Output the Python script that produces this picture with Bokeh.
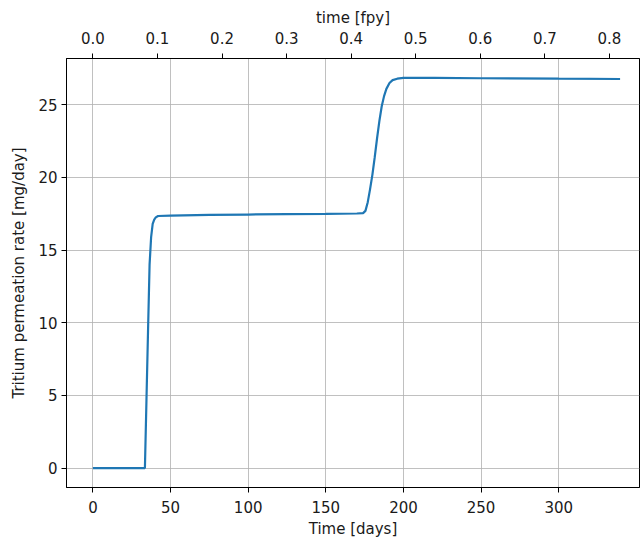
from bokeh.plotting import figure
from bokeh.models import Range1d, LinearAxis, FixedTicker, PrintfTickFormatter
from bokeh.embed import file_html
from bokeh.resources import INLINE

# Data
days = [0, 33.5, 34.5, 35.5, 36.5, 37.5, 38.5, 39.5, 40.5, 42, 50, 75, 100, 125, 150,
        170, 174, 175.5, 177, 178.5, 180, 181.5, 183, 184.5, 186, 187.5, 189, 191,
        193, 196, 200, 220, 250, 300, 339.5]
rate = [0, 0, 4.7, 9.4, 14.0, 15.9, 16.8, 17.1, 17.25, 17.35, 17.38, 17.42, 17.45, 17.48, 17.5,
        17.52, 17.55, 17.7, 18.3, 19.2, 20.2, 21.4, 22.7, 23.9, 24.9, 25.6, 26.1, 26.5,
        26.7, 26.8, 26.85, 26.85, 26.83, 26.8, 26.78]

x_ticks = [0, 50, 100, 150, 200, 250, 300]
y_ticks = [0, 5, 10, 15, 20, 25]
fpy_ticks = [0.0, 0.1, 0.2, 0.3, 0.4, 0.5, 0.6, 0.7, 0.8]
days_per_fpy = 415.8

x_lo, x_hi = -17.0, 352.0
y_lo, y_hi = -1.34, 28.19

FONT = "DejaVu Sans"
TXT = "#1a1a1a"

p = figure(width=643, height=541, output_backend="svg", toolbar_location=None,
           x_range=Range1d(x_lo, x_hi), y_range=Range1d(y_lo, y_hi),
           min_border_left=66, min_border_right=4, min_border_top=58, min_border_bottom=54)
p.background_fill_color = "white"
p.border_fill_color = "white"
p.outline_line_color = "black"
p.outline_line_width = 1
p.outline_line_alpha = 1

bottom = p.below[0]
left = p.left[0]
bottom.ticker = FixedTicker(ticks=x_ticks)
bottom.axis_label = "Time [days]"
left.ticker = FixedTicker(ticks=y_ticks)
left.axis_label = "Tritium permeation rate [mg/day]"

p.extra_x_ranges = {"fpy": Range1d(x_lo / days_per_fpy, x_hi / days_per_fpy)}
top = LinearAxis(x_range_name="fpy", axis_label="time [fpy]",
                 ticker=FixedTicker(ticks=fpy_ticks),
                 formatter=PrintfTickFormatter(format="%.1f"))
p.add_layout(top, "above")

for ax in (bottom, left, top):
    ax.axis_line_color = "black"
    ax.major_tick_line_color = "black"
    ax.major_tick_out = 5
    ax.major_tick_in = 0
    ax.minor_tick_line_color = None
    ax.major_label_text_font = FONT
    ax.major_label_text_font_size = "15px"
    ax.major_label_text_color = TXT
    ax.axis_label_text_font = FONT
    ax.axis_label_text_font_size = "15px"
    ax.axis_label_text_font_style = "normal"
    ax.axis_label_text_color = TXT

top.major_label_standoff = 10
top.axis_label_standoff = 2
bottom.major_label_standoff = 8
bottom.axis_label_standoff = 4
left.major_label_standoff = 4
left.axis_label_standoff = 7

p.xgrid.ticker = FixedTicker(ticks=x_ticks)
p.ygrid.ticker = FixedTicker(ticks=y_ticks)
for g in (p.xgrid, p.ygrid):
    g.grid_line_color = "#b0b0b0"
    g.grid_line_alpha = 0.8
    g.grid_line_width = 1

p.line(days, rate, line_color="#1f77b4", line_width=2.2)

open("out.html", "w").write(file_html(p, INLINE))
